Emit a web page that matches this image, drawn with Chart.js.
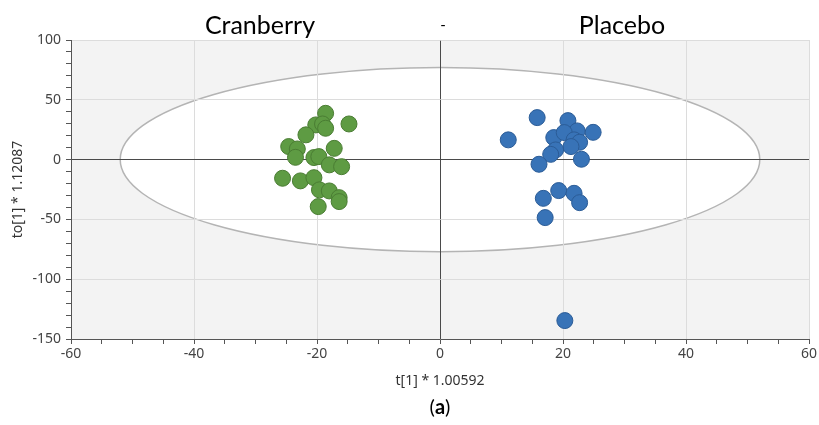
<!DOCTYPE html>
<html>
<head>
<meta charset="utf-8">
<script src="https://cdn.jsdelivr.net/npm/chart.js@4/dist/chart.umd.min.js"></script>
<style>
  html, body { margin: 0; padding: 0; background: #ffffff; }
  #wrap { width: 819px; height: 425px; }
</style>
</head>
<body>
<div id="wrap"><canvas id="c" width="819" height="425"></canvas></div>
<script>
// OPLS-DA score plot: predictive component t[1] vs orthogonal component to[1]
const groupLabels = ['Cranberry', '-', 'Placebo'];

const cranberryT  = [-18.6, -14.8, -20.2, -19.1, -18.6, -21.8, -24.6, -23.2, -23.5, -17.2, -20.5,
                     -19.7, -18.0, -16.0, -25.6, -22.7, -20.5, -19.6, -18.0, -16.4, -16.4, -19.8];
const cranberryTo = [ 38.7,  29.8,  29.0,  29.8,  26.2,  20.7,  10.9,   8.9,   1.9,   9.4,   1.7,
                       2.5,  -4.4,  -5.9, -15.6, -17.8, -15.1, -25.3, -26.2, -31.8, -35.1, -39.3];

const placeboT  = [15.8, 11.1, 20.8, 24.9, 22.3, 18.5, 20.2, 21.8, 22.7, 21.3, 18.8, 18.0, 16.1,
                   23.0, 19.3, 21.8, 22.7, 16.8, 17.1, 20.3];
const placeboTo = [35.1, 16.5, 32.6, 22.8, 24.0, 18.4, 22.6, 16.5, 14.5, 10.9,  8.1,  4.4, -3.9,
                    0.3, -25.9, -28.2, -36.0, -32.4, -48.5, -134.6];

// Hotelling's T2 ellipse half-axes (data units)
const ellipseT = 52;
const ellipseTo = 77;

const xMin = -60, xMax = 60, xMinorStep = 5, xMajorStep = 20;
const yMin = -150, yMax = 100, yMinorStep = 10, yMajorStep = 50;

const xTitle = 't[1] * 1.00592';
const yTitle = 'to[1] * 1.12087';
const panelLabel = 'a';

const toPoints = (xs, ys) => xs.map((x, i) => ({ x: x, y: ys[i] }));

const uiFamily = "'Noto Sans', 'Open Sans', sans-serif";
const headFamily = "Lato, 'Open Sans', sans-serif";
const tickFont = { family: uiFamily, size: 14 };

const plotDecor = {
  id: 'plotDecor',
  beforeDraw(chart) {
    const { ctx, chartArea: a, scales } = chart;
    ctx.save();
    ctx.fillStyle = '#f3f3f3';
    ctx.fillRect(a.left, a.top, a.right - a.left, a.bottom - a.top);
    const cx = scales.x.getPixelForValue(0);
    const cy = scales.y.getPixelForValue(0);
    const rx = Math.abs(scales.x.getPixelForValue(ellipseT) - cx);
    const ry = Math.abs(scales.y.getPixelForValue(ellipseTo) - cy);
    ctx.beginPath();
    ctx.ellipse(cx, cy, rx, ry, 0, 0, Math.PI * 2);
    ctx.fillStyle = '#ffffff';
    ctx.fill();
    ctx.lineWidth = 1.5;
    ctx.strokeStyle = '#b4b4b4';
    ctx.stroke();
    ctx.restore();
  },
  afterDraw(chart) {
    const { ctx, chartArea: a, scales } = chart;
    ctx.save();
    // group names above the plot
    ctx.fillStyle = '#000000';
    ctx.textAlign = 'center';
    ctx.textBaseline = 'alphabetic';
    ctx.font = '25px ' + headFamily;
    ctx.fillText(groupLabels[0], 260, 34);
    ctx.fillText(groupLabels[2], 622, 34);
    ctx.font = '15px ' + headFamily;
    ctx.textBaseline = 'middle';
    ctx.fillText(groupLabels[1], scales.x.getPixelForValue(0) + 3, 25);

    // axis titles
    ctx.fillStyle = '#333333';
    ctx.font = '14px ' + uiFamily;
    ctx.fillText(xTitle, (a.left + a.right) / 2, 381);
    ctx.save();
    ctx.translate(18, (a.top + a.bottom) / 2);
    ctx.rotate(-Math.PI / 2);
    ctx.fillText(yTitle, 0, 0);
    ctx.restore();

    // panel label "(a)"
    const cxl = (a.left + a.right) / 2;
    const normal = '20px ' + headFamily;
    const bold = 'bold 20px ' + headFamily;
    ctx.fillStyle = '#000000';
    ctx.textAlign = 'left';
    ctx.font = normal;
    const wOpen = ctx.measureText('(').width;
    const wClose = ctx.measureText(')').width;
    ctx.font = bold;
    const wA = ctx.measureText(panelLabel).width;
    const x0 = cxl - (wOpen + wA + wClose) / 2;
    ctx.font = normal;
    ctx.fillText('(', x0, 408);
    ctx.fillText(')', x0 + wOpen + wA, 408);
    ctx.font = bold;
    ctx.fillText(panelLabel, x0 + wOpen, 408);
    ctx.restore();
  }
};

new Chart(document.getElementById('c'), {
  type: 'scatter',
  data: {
    datasets: [
      {
        label: groupLabels[0],
        data: toPoints(cranberryT, cranberryTo),
        backgroundColor: '#5e9b43',
        borderColor: '#4a7d33',
        borderWidth: 1,
        pointRadius: 8,
        pointHoverRadius: 8
      },
      {
        label: groupLabels[2],
        data: toPoints(placeboT, placeboTo),
        backgroundColor: '#3873b7',
        borderColor: '#2b5c97',
        borderWidth: 1,
        pointRadius: 8,
        pointHoverRadius: 8
      }
    ]
  },
  options: {
    responsive: false,
    animation: false,
    layout: { padding: { left: 0, right: 10, top: 40, bottom: 0 } },
    plugins: {
      legend: { display: false },
      title: { display: false },
      tooltip: { enabled: false }
    },
    scales: {
      x: {
        type: 'linear',
        min: xMin,
        max: xMax,
        afterFit(scale) {
          scale.height = 425 - 339;
          scale.paddingLeft = 0;
          scale.paddingRight = 0;
        },
        border: { display: true, color: '#555555', width: 1 },
        grid: {
          color: ctx => ctx.tick.value === 0 ? '#4a4a4a' : (ctx.tick.value % xMajorStep === 0 ? '#dcdcdc' : 'rgba(0,0,0,0)'),
          tickColor: '#555555',
          tickLength: 5,
          drawTicks: true
        },
        ticks: {
          stepSize: xMinorStep,
          autoSkip: false,
          maxRotation: 0,
          padding: 2,
          color: '#444444',
          font: tickFont,
          callback: v => (v % xMajorStep === 0 ? String(v) : '')
        }
      },
      y: {
        type: 'linear',
        min: yMin,
        max: yMax,
        afterFit(scale) {
          scale.width = 71;
          scale.paddingTop = 0;
          scale.paddingBottom = 0;
        },
        border: { display: true, color: '#555555', width: 1 },
        grid: {
          color: ctx => ctx.tick.value === 0 ? '#4a4a4a' : (ctx.tick.value % yMajorStep === 0 ? '#dcdcdc' : 'rgba(0,0,0,0)'),
          tickColor: '#555555',
          tickLength: 5,
          drawTicks: true
        },
        ticks: {
          stepSize: yMinorStep,
          autoSkip: false,
          padding: 5,
          color: '#444444',
          font: tickFont,
          callback: v => (v % yMajorStep === 0 ? String(v) : '')
        }
      }
    }
  },
  plugins: [plotDecor]
});
</script>
</body>
</html>
